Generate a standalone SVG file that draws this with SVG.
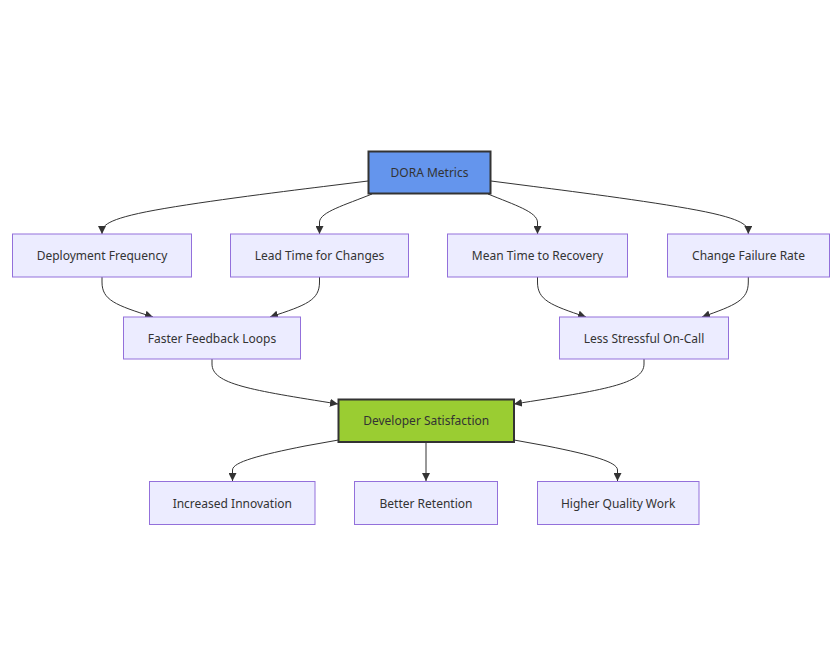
<svg xmlns="http://www.w3.org/2000/svg" width="836" height="670" viewBox="0 0 836 670">
<style>
.node rect{fill:#ECECFF;stroke:#9370DB;stroke-width:1}
.node.dora rect{fill:#6495ED;stroke:#333333;stroke-width:2}
.node.dev rect{fill:#9ACD32;stroke:#333333;stroke-width:2}
.node text{font-family:"Noto Sans","DejaVu Sans",sans-serif;font-size:12px;fill:#333333;text-anchor:middle;dominant-baseline:central}
.edges path{fill:none;stroke:#333333;stroke-width:1}
</style>
<defs>
<marker id="arrow" viewBox="0 0 10 10" refX="10" refY="5" markerUnits="userSpaceOnUse" markerWidth="8" markerHeight="8" orient="auto">
<path d="M0,0 L10,5 L0,10 z" fill="#333333"/>
</marker>
</defs>
<rect width="836" height="670" fill="#ffffff"/>
<g class="edges">
<path marker-end="url(#arrow)" d="M368,181 L323.7,186.5 C279.3,192 190.7,203 146.3,211.8 C102,220.7 102,227.3 102,234"/>
<path marker-end="url(#arrow)" d="M372,194 C345,205 320,212 319.5,222 L319.5,234"/>
<path marker-end="url(#arrow)" d="M488,194 C515,205 537,212 537.5,222 L537.5,234"/>
<path marker-end="url(#arrow)" d="M491,181 L533.8,186.5 C576.7,192 662.5,203 705.4,211.8 C748.3,220.7 748.3,227.3 748.3,234"/>
<path marker-end="url(#arrow)" d="M102,277 L102,282 C102,300 115,305 153,317"/>
<path marker-end="url(#arrow)" d="M319.5,277 L319.5,282 C319.5,300 307,305 270,317"/>
<path marker-end="url(#arrow)" d="M537.5,277 L537.5,282 C537.5,300 550,305 586,317"/>
<path marker-end="url(#arrow)" d="M748.3,277 L748.3,282 C748.3,300 736,305 702,317"/>
<path marker-end="url(#arrow)" d="M212,359 L212,364 C212,384 250,390 338,404"/>
<path marker-end="url(#arrow)" d="M644,359 L644,364 C644,384 604,390 514,404"/>
<path marker-end="url(#arrow)" d="M338.5,440 L305,446 C260,455 232.5,462 232.5,470 L232.5,481"/>
<path marker-end="url(#arrow)" d="M426,442 L426,481"/>
<path marker-end="url(#arrow)" d="M514,440 L547,446 C592,455 617.5,462 617.5,470 L617.5,481"/>
</g>
<g id="dora" class="node dora"><rect x="368.5" y="151.5" width="122" height="42"/><text x="429.5" y="172.5">DORA Metrics</text></g>
<g id="df" class="node"><rect x="12.5" y="234" width="179" height="43"/><text x="102" y="255.5">Deployment Frequency</text></g>
<g id="lt" class="node"><rect x="230.5" y="234" width="178" height="43"/><text x="319.5" y="255.5">Lead Time for Changes</text></g>
<g id="mttr" class="node"><rect x="447.5" y="234" width="180" height="43"/><text x="537.5" y="255.5">Mean Time to Recovery</text></g>
<g id="cfr" class="node"><rect x="667.5" y="234" width="162" height="43"/><text x="748.5" y="255.5">Change Failure Rate</text></g>
<g id="ffl" class="node"><rect x="123.5" y="317" width="177" height="42"/><text x="212" y="338">Faster Feedback Loops</text></g>
<g id="lsoc" class="node"><rect x="559.5" y="317" width="169" height="42"/><text x="644" y="338">Less Stressful On-Call</text></g>
<g id="ds" class="node dev"><rect x="338.5" y="399.5" width="175.5" height="42.5"/><text x="426.2" y="420.5">Developer Satisfaction</text></g>
<g id="ii" class="node"><rect x="149.5" y="481.5" width="165.5" height="43"/><text x="232.3" y="503">Increased Innovation</text></g>
<g id="br" class="node"><rect x="354.5" y="481.5" width="143" height="43"/><text x="426" y="503">Better Retention</text></g>
<g id="hqw" class="node"><rect x="537.5" y="481.5" width="161.5" height="43"/><text x="618.2" y="503">Higher Quality Work</text></g>
</svg>
